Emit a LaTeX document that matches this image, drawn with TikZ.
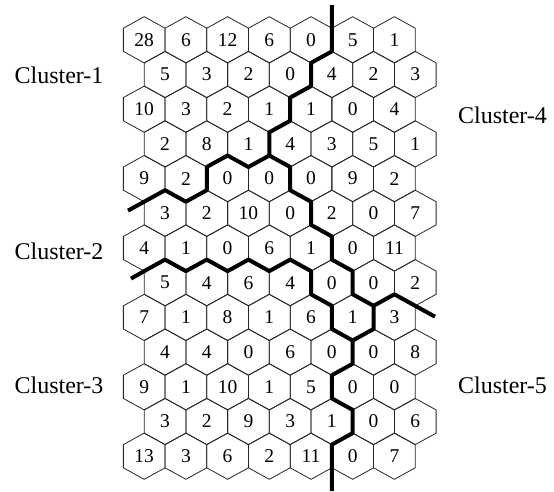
\documentclass[tikz,border=0pt]{standalone}
\usepackage{fontspec}
\setmainfont{Liberation Serif}
\begin{document}
\begin{tikzpicture}[x=1pt,y=-1pt,
  hexline/.style={draw=black!85,line width=0.8pt},
  cut/.style={line width=4pt,line join=round,line cap=butt},
  num/.style={font=\fontsize{19.5}{19.5}\selectfont,inner sep=0pt},
  lab/.style={font=\fontsize{24}{24}\selectfont,anchor=base,inner sep=0pt}]
\useasboundingbox (0,0) rectangle (554,491);
\foreach \vals [count=\r from 0] in {
  {28,6,12,6,0,5,1},
  {5,3,2,0,4,2,3},
  {10,3,2,1,1,0,4},
  {2,8,1,4,3,5,1},
  {9,2,0,0,0,9,2},
  {3,2,10,0,2,0,7},
  {4,1,0,6,1,0,11},
  {5,4,6,4,0,0,2},
  {7,1,8,1,6,1,3},
  {4,4,0,6,0,0,8},
  {9,1,10,1,5,0,0},
  {3,2,9,3,1,0,6},
  {13,3,6,2,11,0,7}} {
  \foreach \v [count=\c from 0] in \vals {
    \pgfmathsetmacro\cx{144.2+41.7*\c+20.85*mod(\r,2)}
    \pgfmathsetmacro\cy{39.8+34.7*\r}
    \draw[hexline] (\cx,\cy-23.1) -- ++(20.85,11.5) -- ++(0,23.2) -- ++(-20.85,11.5) -- ++(-20.85,-11.5) -- ++(0,-23.2) -- cycle;
    \node[num] (h\r-\c) at (\cx,\cy) {\v};
  }
}
% cluster boundaries
\draw[cut] (331.85,5) -- (331.85,51.4) -- (311,62.9) -- (311,86.1) -- (290.15,97.6) -- (290.15,120.8)
  -- (269.3,132.3) -- (269.3,155.5) -- (290.15,167) -- (290.15,190.2) -- (311,201.7) -- (311,224.9)
  -- (331.85,236.4) -- (331.85,259.6) -- (352.7,271.1) -- (352.7,294.3) -- (373.55,305.8) -- (373.55,329)
  -- (352.7,340.5) -- (352.7,363.7) -- (331.85,375.2) -- (331.85,398.4) -- (352.7,409.9) -- (352.7,433.1)
  -- (331.85,444.6) -- (331.85,491);
\draw[cut] (269.3,155.5) -- (248.45,167) -- (227.6,155.5) -- (206.75,167) -- (206.75,190.2)
  -- (185.9,201.7) -- (165.05,190.2) -- (144.2,201.7) -- (128,210.6);
\draw[cut] (131,278.6) -- (144.2,271.1) -- (165.05,259.6) -- (185.9,271.1) -- (206.75,259.6)
  -- (227.6,271.1) -- (248.45,259.6) -- (269.3,271.1) -- (290.15,259.6) -- (311,271.1) -- (311,294.3)
  -- (331.85,305.8) -- (331.85,329) -- (352.7,340.5);
\draw[cut] (373.55,305.8) -- (394.4,294.3) -- (415.25,305.8) -- (435,316.7);
% labels
\node[lab] (c1) at (59,83) {Cluster-1};
\node[lab] (c2) at (59,259) {Cluster-2};
\node[lab] (c3) at (59,393) {Cluster-3};
\node[lab] (c4) at (502.5,123) {Cluster-4};
\node[lab] (c5) at (502.5,393) {Cluster-5};
\end{tikzpicture}
\end{document}
